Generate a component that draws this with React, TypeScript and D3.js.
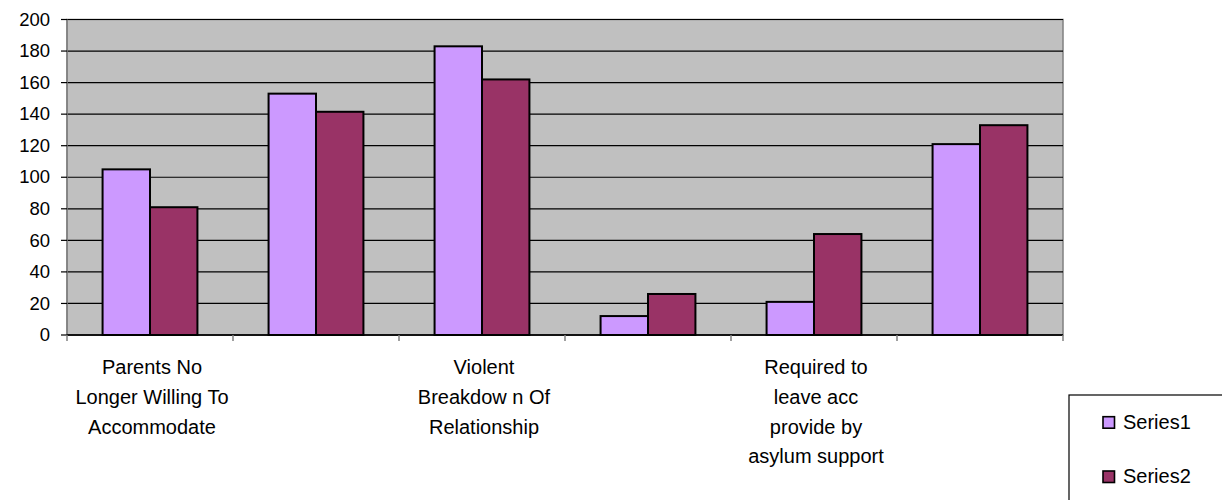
import React from "react";
import * as d3 from "d3";

// Category labels (only every other category carries a label on the axis)
const categoryLabels: string[][] = [
  ["Parents No", "Longer Willing To", "Accommodate"],
  [],
  ["Violent", "Breakdow n Of", "Relationship"],
  [],
  ["Required to", "leave acc", "provide by", "asylum support"],
  [],
];
const seriesNames = ["Series1", "Series2"];
const series1 = [105, 153, 183, 12, 21, 121];
const series2 = [81, 141.5, 162, 26, 64, 133];
const yTicks = [0, 20, 40, 60, 80, 100, 120, 140, 160, 180, 200];
const seriesColors = ["#CC99FF", "#993366"];

const W = 1222;
const H = 500;
const plot = { left: 67, right: 1063, top: 19.5, bottom: 335 };
const FONT = "'Liberation Sans', Arial, sans-serif";

export default function App() {
  const cats = categoryLabels.map((_, i) => String(i));
  const x0 = d3.scaleBand<string>().domain(cats).range([plot.left, plot.right]).padding(0);
  const x1 = d3
    .scaleBand<string>()
    .domain(seriesNames)
    .range([0, x0.bandwidth()])
    .paddingInner(0)
    .paddingOuter(0.75);
  const y = d3.scaleLinear().domain([0, 200]).range([plot.bottom, plot.top]);
  const values = [series1, series2];

  const boundaries = cats.map((c) => x0(c)!).concat([plot.right]);

  return (
    <svg
      width={W}
      height={H}
      style={{ position: "absolute", left: 0, top: 0, background: "#fff" }}
      fontFamily={FONT}
    >
      {/* plot background */}
      <rect
        x={plot.left}
        y={plot.top}
        width={plot.right - plot.left}
        height={plot.bottom - plot.top}
        fill="#C0C0C0"
        stroke="#808080"
        strokeWidth={1.5}
      />
      {/* horizontal gridlines */}
      {yTicks.map((t) => (
        <line
          key={"g" + t}
          x1={plot.left}
          x2={plot.right}
          y1={y(t)}
          y2={y(t)}
          stroke="#000"
          strokeWidth={1.2}
        />
      ))}
      {/* y axis */}
      <line x1={plot.left} x2={plot.left} y1={plot.top} y2={plot.bottom} stroke="#808080" strokeWidth={1.5} />
      {yTicks.map((t) => (
        <g key={"yt" + t}>
          <line x1={plot.left - 6} x2={plot.left} y1={y(t)} y2={y(t)} stroke="#000" strokeWidth={1.2} />
          <text x={50} y={y(t) + 6.2} textAnchor="end" fontSize={18.5} fill="#000">
            {t}
          </text>
        </g>
      ))}
      {/* bars */}
      {cats.map((c, i) => (
        <g key={"c" + c}>
          {seriesNames.map((s, si) => {
            const v = values[si][i];
            const bx = x0(c)! + x1(s)!;
            return (
              <rect
                key={s}
                x={bx}
                y={y(v)}
                width={x1.bandwidth()}
                height={y(0) - y(v)}
                fill={seriesColors[si]}
                stroke="#000"
                strokeWidth={2}
              />
            );
          })}
        </g>
      ))}
      {/* x axis */}
      <line x1={plot.left} x2={plot.right} y1={plot.bottom} y2={plot.bottom} stroke="#000" strokeWidth={1.5} />
      {boundaries.map((bx, i) => (
        <line
          key={"xt" + i}
          x1={bx}
          x2={bx}
          y1={plot.bottom}
          y2={plot.bottom + 6}
          stroke="#808080"
          strokeWidth={1.5}
        />
      ))}
      {categoryLabels.map((lines, i) =>
        lines.length ? (
          <text
            key={"cl" + i}
            x={x0(String(i))! + x0.bandwidth() / 2 + 2}
            y={374}
            textAnchor="middle"
            fontSize={20}
            fill="#000"
          >
            {lines.map((ln, li) => (
              <tspan key={li} x={x0(String(i))! + x0.bandwidth() / 2 + 2} dy={li === 0 ? 0 : 29.8}>
                {ln}
              </tspan>
            ))}
          </text>
        ) : null
      )}
      {/* legend */}
      <rect x={1069} y={395} width={170} height={120} fill="#fff" stroke="#000" strokeWidth={1.2} />
      {seriesNames.map((s, si) => (
        <g key={"lg" + s} transform={`translate(1103, ${416.7 + si * 54.3})`}>
          <rect x={0} y={0} width={11.5} height={11.5} fill={seriesColors[si]} stroke="#000" strokeWidth={1.6} />
          <text x={20} y={11.8} fontSize={20} fill="#000">
            {s}
          </text>
        </g>
      ))}
    </svg>
  );
}
